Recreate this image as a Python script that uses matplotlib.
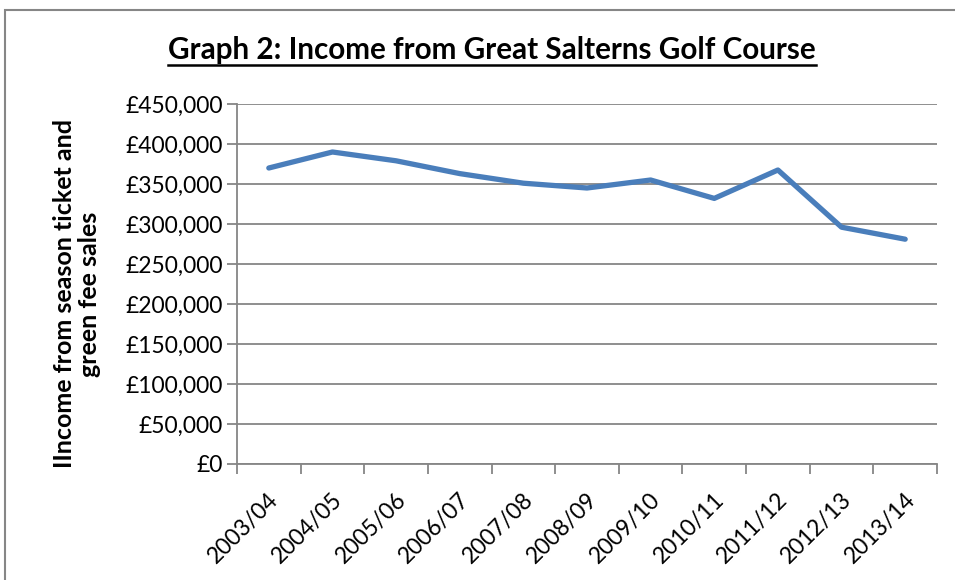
import matplotlib.pyplot as plt
import numpy as np
from matplotlib.lines import Line2D
from matplotlib.patches import Rectangle
from matplotlib.ticker import FuncFormatter
from matplotlib.transforms import ScaledTranslation

plt.rcParams['font.family'] = ['Lato', 'DejaVu Sans']

years = ['2003/04', '2004/05', '2005/06', '2006/07', '2007/08', '2008/09',
         '2009/10', '2010/11', '2011/12', '2012/13', '2013/14']
income = [370000, 390000, 379000, 363000, 351000, 345000,
          355000, 332000, 367500, 296000, 281000]

grey = '#868686'

fig = plt.figure(figsize=(9.55, 5.8), dpi=100)
ax = fig.add_axes([237 / 955, 116 / 580, 700 / 955, 360 / 580])

x = np.arange(len(years))
ax.plot(x, income, color='#4a7ebb', linewidth=3.8, solid_capstyle='round',
        solid_joinstyle='round', zorder=3)

ax.set_xlim(-0.5, len(years) - 0.5)
ax.set_ylim(0, 450000)
ax.set_yticks(np.arange(0, 450001, 50000))
ax.yaxis.set_major_formatter(FuncFormatter(lambda v, p: '£0' if v == 0 else '£{:,.0f}'.format(v)))
ax.grid(axis='y', color=grey, linewidth=1.3)
ax.set_axisbelow(True)

ax.set_xticks(x)
ax.set_xticklabels(years, rotation=45, ha='right', va='top',
                   rotation_mode='anchor', fontsize=16.5)
ax.tick_params(axis='x', which='major', length=0, pad=18)
shift = ScaledTranslation(-1 / 100, 0, fig.dpi_scale_trans)
for lab in ax.get_xticklabels():
    lab.set_transform(lab.get_transform() + shift)
ax.set_xticks(np.arange(-0.5, len(years)), minor=True)
ax.tick_params(axis='x', which='minor', length=7, width=1.3, color=grey, direction='out')
ax.tick_params(axis='y', length=7, width=1.3, color=grey, labelsize=16.5, pad=3)

for s in ['top', 'right']:
    ax.spines[s].set_visible(False)
for s in ['left', 'bottom']:
    ax.spines[s].set_color(grey)
    ax.spines[s].set_linewidth(1.3)

fig.text(77 / 955, 286 / 580, 'IIncome from season ticket and\ngreen fee sales',
         rotation=90, ha='center', va='center', fontsize=18, fontweight='bold',
         linespacing=1.12)

title = fig.text(492 / 955, 1 - 50 / 580, 'Graph 2: Income from Great Salterns Golf Course',
                 ha='center', va='center', fontsize=21.3, fontweight='bold')

# outer border
fig.patches.append(Rectangle((5 / 955, -0.1), 1.2, 1 - 10 / 580 + 0.1,
                             transform=fig.transFigure, fill=False,
                             edgecolor=grey, linewidth=1.5))

# underline the title
fig.canvas.draw()
bb = title.get_window_extent().transformed(fig.transFigure.inverted())
uy = bb.y0 - 1 / 580
fig.lines.append(Line2D([bb.x0, bb.x1], [uy, uy], transform=fig.transFigure,
                        color='black', linewidth=1.8))

fig.savefig('out.png', dpi=100)
